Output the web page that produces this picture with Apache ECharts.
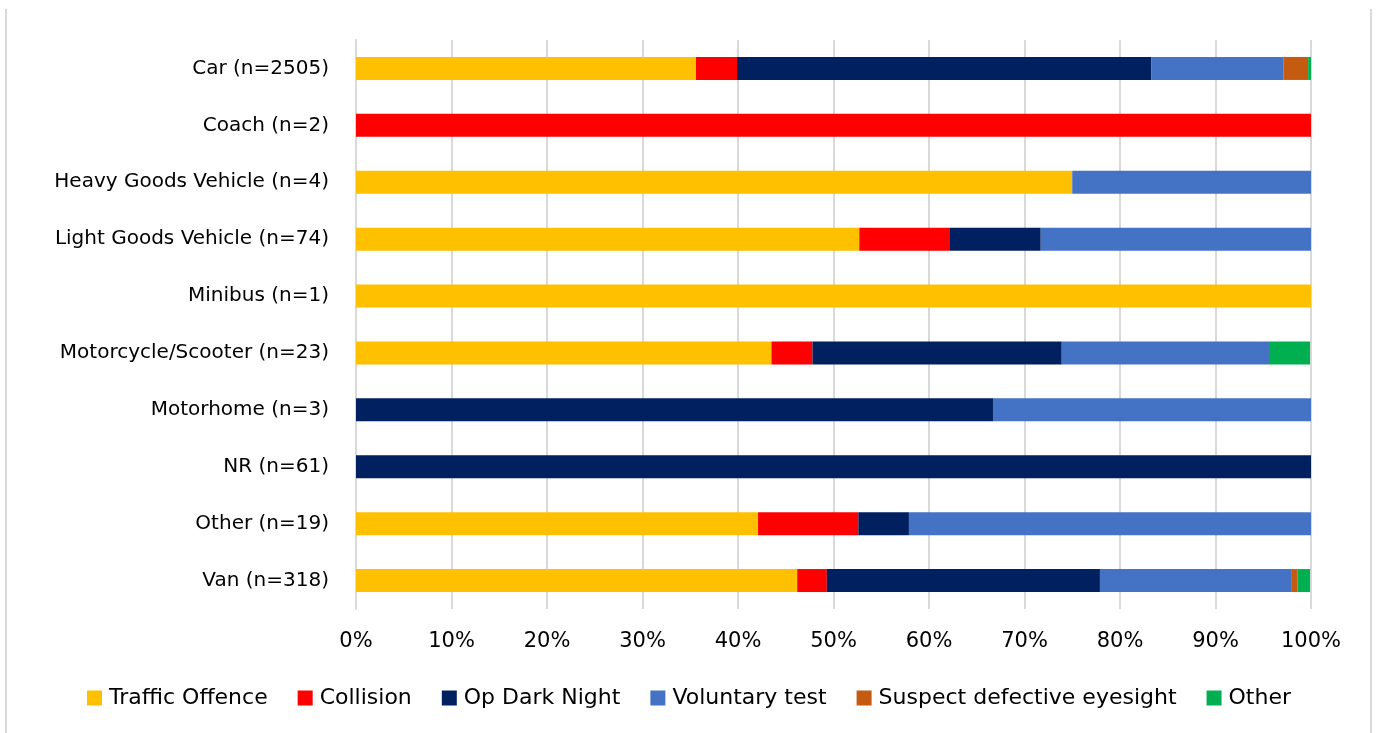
<!DOCTYPE html>
<html>
<head>
<meta charset="utf-8">
<title>Tests by vehicle type</title>
<script src="https://cdn.jsdelivr.net/npm/echarts@6/dist/echarts.min.js"></script>
<style>
  html, body { margin: 0; padding: 0; background: #fff; }
  #wrap { position: relative; width: 1378px; height: 733px; }
  #frame {
    position: absolute; left: 5px; top: 9px; width: 1367px; height: 724px;
    border-left: 2px solid #d9d9d9; border-right: 2px solid #d9d9d9;
    box-sizing: border-box;
  }
  #main { position: absolute; left: 0; top: 0; width: 1378px; height: 733px; }
</style>
</head>
<body>
<div id="wrap">
  <div id="frame"></div>
  <div id="main"></div>
</div>
<script>
// vehicle types (top to bottom)
var categories = [
  "Car (n=2505)", "Coach (n=2)", "Heavy Goods Vehicle (n=4)", "Light Goods Vehicle (n=74)",
  "Minibus (n=1)", "Motorcycle/Scooter (n=23)", "Motorhome (n=3)", "NR (n=61)",
  "Other (n=19)", "Van (n=318)"
];

// share of tests per reason, in %
var trafficOffence = [35.6, 0, 75, 52.7, 100, 43.5, 0, 0, 42.1, 46.2];
var collision      = [4.3, 100, 0, 9.5, 0, 4.3, 0, 0, 10.5, 3.1];
var opDarkNight    = [43.4, 0, 0, 9.5, 0, 26.1, 66.7, 100, 5.3, 28.6];
var voluntaryTest  = [13.8, 0, 25, 28.4, 0, 21.7, 33.3, 0, 42.1, 20.1];
var suspectEyes    = [2.6, 0, 0, 0, 0, 0, 0, 0, 0, 0.6];
var otherReason    = [0.3, 0, 0, 0, 0, 4.3, 0, 0, 0, 1.3];

var seriesNames = ["Traffic Offence", "Collision", "Op Dark Night", "Voluntary test",
  "Suspect defective eyesight", "Other"];
var seriesData = [trafficOffence, collision, opDarkNight, voluntaryTest, suspectEyes, otherReason];
var colors = ["#FFC000", "#FF0000", "#002060", "#4472C4", "#C55A11", "#00B050"];

var font = "DejaVu Sans";

var chart = echarts.init(document.getElementById("main"));

var series = [];
for (var i = 0; i < seriesNames.length; i++) {
  series.push({
    name: seriesNames[i],
    type: "bar",
    stack: "total",
    barWidth: 23,
    itemStyle: { color: colors[i] },
    emphasis: { disabled: true },
    data: seriesData[i]
  });
}

chart.setOption({
  animation: false,
  textStyle: { fontFamily: font },
  grid: { left: 356, right: 67, top: 40, bottom: 124 },
  legend: {
    bottom: 19,
    left: "center",
    itemWidth: 15,
    itemHeight: 15,
    itemGap: 30,
    icon: "rect",
    textStyle: { fontFamily: font, fontSize: 22, color: "#000", padding: [0, 0, 0, 2] },
    data: seriesNames
  },
  xAxis: {
    type: "value",
    min: 0,
    max: 100,
    interval: 10,
    axisLine: { show: false },
    axisTick: { show: false },
    axisLabel: {
      formatter: "{value}%",
      fontFamily: font,
      fontSize: 21,
      color: "#000",
      margin: 22
    },
    splitLine: { lineStyle: { color: "#d9d9d9", width: 2 } }
  },
  yAxis: {
    type: "category",
    inverse: true,
    data: categories,
    axisLine: { show: true, lineStyle: { color: "#d9d9d9", width: 2 } },
    axisTick: { show: false },
    axisLabel: {
      fontFamily: font,
      fontSize: 20,
      color: "#000",
      margin: 27
    }
  },
  series: series
});
</script>
</body>
</html>
